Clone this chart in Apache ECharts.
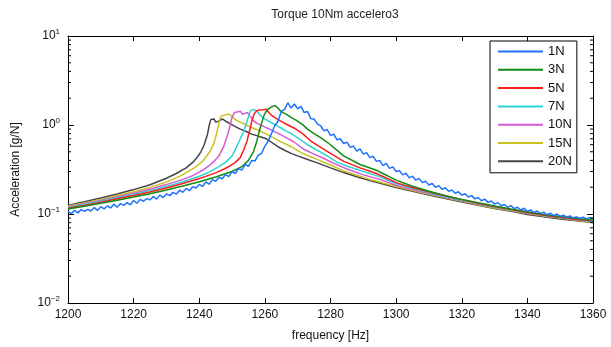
<!DOCTYPE html>
<html><head><meta charset="utf-8">
<script src="https://cdn.jsdelivr.net/npm/echarts@6/dist/echarts.min.js"></script>
<style>html,body{margin:0;padding:0;background:#fff}#c{width:611px;height:347px}</style>
</head><body><div id="c"></div>
<script>
const title = 'Torque 10Nm accelero3';
const xName = 'frequency [Hz]';
const yName = 'Acceleration [g/N]';
const seriesNames = ['1N','3N','5N','7N','10N','15N','20N'];
const seriesColors = ['#1f72ff','#128a12','#ff1a1a','#2fd3d3','#d65ad6','#c9c21e','#454545'];
const minorTickValues = [0.02,0.03,0.04,0.05,0.06,0.07,0.08,0.09,0.2,0.3,0.4,0.5,0.6,0.7,0.8,0.9,2,3,4,5,6,7,8,9];

// 1N (noisy), 1 Hz steps from 1200 to 1360
const f1 = [];
for (let f = 1200; f <= 1360; f++) f1.push(f);
const v1 = [
0.107,0.101,0.110,0.103,0.112,0.107,0.113,0.108,0.118,0.110,
0.121,0.114,0.123,0.117,0.129,0.119,0.131,0.125,0.134,0.127,
0.142,0.132,0.146,0.139,0.149,0.144,0.157,0.147,0.163,0.153,
0.168,0.161,0.175,0.167,0.185,0.175,0.194,0.183,0.202,0.196,
0.215,0.204,0.229,0.216,0.243,0.233,0.257,0.249,0.277,0.263,
0.299,0.285,0.326,0.311,0.36,0.342,0.40,0.395,0.46,0.48,
0.58,0.66,0.80,0.98,1.10,1.42,1.50,1.78,1.55,1.72,
1.52,1.62,1.38,1.42,1.18,1.16,1.03,0.98,0.86,0.89,
0.76,0.79,0.68,0.70,0.62,0.64,0.56,0.58,0.51,0.54,
0.47,0.49,0.43,0.445,0.39,0.40,0.35,0.37,0.325,0.338,
0.30,0.306,0.275,0.287,0.255,0.266,0.24,0.251,0.225,0.233,
0.212,0.22,0.2,0.208,0.19,0.197,0.18,0.186,0.171,0.178,
0.163,0.169,0.155,0.161,0.148,0.153,0.141,0.147,0.135,0.14,
0.129,0.134,0.124,0.128,0.119,0.124,0.115,0.119,0.111,0.116,
0.107,0.111,0.104,0.108,0.101,0.105,0.098,0.102,0.096,0.1,
0.094,0.097,0.092,0.095,0.09,0.093,0.089,0.092,0.088,0.091,
0.089];

// 3N
const f3 = [1200,1205,1210,1215,1220,1225,1230,1235,1240,1245,1250,1253,1255,1256.5,1257.5,1258.3,1259,1259.8,1260.7,1261.5,1262.3,1263,1263.8,1264.6,1265.5,1266.7,1268,1269.7,1271.5,1273,1275,1277,1280,1284,1289,1294,1300,1305,1310,1315,1320,1325,1330,1335,1340,1345,1350,1355,1360];
const v3 = [0.114,0.122,0.132,0.143,0.155,0.169,0.186,0.206,0.23,0.26,0.30,0.34,0.40,0.50,0.65,0.85,1.05,1.30,1.48,1.56,1.62,1.65,1.58,1.45,1.38,1.31,1.22,1.12,1.01,0.90,0.80,0.72,0.60,0.45,0.36,0.31,0.24,0.205,0.18,0.16,0.146,0.134,0.123,0.114,0.106,0.099,0.094,0.089,0.085];

// 5N
const f5 = [1200,1205,1210,1215,1220,1225,1230,1235,1240,1245,1249,1251,1252.5,1253.5,1254.5,1255.3,1256,1256.7,1257.5,1258.5,1259.5,1260.5,1261.2,1262,1263.5,1265,1267,1269,1271.5,1274,1277,1280,1284,1289,1294,1300,1305,1310,1315,1320,1325,1330,1335,1340,1345,1350,1355,1360];
const v5 = [0.116,0.125,0.136,0.148,0.161,0.177,0.196,0.22,0.25,0.29,0.34,0.38,0.43,0.52,0.65,0.85,1.10,1.32,1.45,1.47,1.48,1.50,1.38,1.29,1.18,1.10,1.00,0.92,0.80,0.66,0.56,0.48,0.39,0.33,0.285,0.225,0.198,0.178,0.16,0.145,0.132,0.121,0.112,0.104,0.097,0.092,0.087,0.084];

// 7N
const f7 = [1200,1205,1210,1215,1220,1225,1230,1235,1240,1243,1246,1248,1250,1251.5,1252.5,1253.5,1254.3,1255,1255.6,1256.5,1257.5,1258.5,1259.5,1260.5,1262,1263.5,1265.5,1268,1270.5,1273,1276,1279,1282,1286,1290,1294,1300,1305,1310,1315,1320,1325,1330,1335,1340,1345,1350,1355,1360];
const v7 = [0.118,0.128,0.139,0.152,0.166,0.183,0.204,0.23,0.265,0.295,0.34,0.38,0.45,0.58,0.70,0.84,1.02,1.25,1.45,1.49,1.45,1.30,1.20,1.14,1.06,0.99,0.90,0.80,0.70,0.60,0.52,0.45,0.38,0.335,0.30,0.27,0.22,0.194,0.174,0.157,0.143,0.131,0.12,0.111,0.103,0.096,0.091,0.086,0.083];

// 10N
const f10 = [1200,1205,1210,1215,1220,1225,1230,1235,1238,1241,1243,1244.5,1246,1247.5,1248.5,1249.3,1250,1250.7,1251.5,1252.5,1253.3,1254,1254.7,1255.5,1256.5,1257.5,1259,1260.5,1262.5,1264.5,1266.5,1269,1272,1275,1278,1281,1285,1290,1295,1300,1305,1310,1315,1320,1325,1330,1335,1340,1345,1350,1355,1360];
const v10 = [0.12,0.13,0.142,0.156,0.171,0.19,0.214,0.245,0.27,0.31,0.35,0.39,0.45,0.58,0.75,0.95,1.22,1.38,1.40,1.43,1.32,1.35,1.38,1.25,1.12,1.05,0.99,0.93,0.86,0.79,0.72,0.64,0.53,0.47,0.42,0.37,0.32,0.275,0.245,0.21,0.188,0.17,0.154,0.141,0.129,0.119,0.11,0.102,0.096,0.091,0.086,0.082];

// 15N
const f15 = [1200,1205,1210,1215,1220,1225,1230,1234,1237,1239,1241,1242.5,1243.5,1244.5,1245.3,1246,1246.5,1247,1248,1249,1250,1251,1252,1253.5,1255,1256.5,1258.5,1260.5,1262.5,1265,1268,1271,1274,1277,1280,1284,1288,1292,1296,1300,1305,1310,1315,1320,1325,1330,1335,1340,1345,1350,1355,1360];
const v15 = [0.122,0.133,0.146,0.161,0.178,0.199,0.228,0.265,0.305,0.34,0.39,0.46,0.52,0.63,0.80,1.05,1.25,1.31,1.30,1.33,1.24,1.15,1.10,1.04,0.97,0.92,0.86,0.79,0.72,0.645,0.57,0.49,0.44,0.395,0.355,0.305,0.272,0.245,0.223,0.204,0.184,0.167,0.152,0.139,0.127,0.117,0.109,0.101,0.095,0.09,0.085,0.081];

// 20N
const f20 = [1200,1205,1210,1215,1220,1225,1230,1233,1236,1238,1239.5,1240.5,1241.5,1242.5,1243,1243.5,1244,1244.5,1245,1246,1247,1247.5,1248.5,1249.5,1251,1252.5,1254.5,1256,1257.5,1259,1260.5,1262,1264,1266,1268,1270,1273,1276,1280,1284,1288,1292,1296,1300,1305,1310,1315,1320,1325,1330,1335,1340,1345,1350,1355,1360];
const v20 = [0.125,0.137,0.151,0.168,0.188,0.213,0.252,0.285,0.33,0.38,0.44,0.50,0.60,0.78,0.98,1.15,1.20,1.17,1.08,1.10,1.17,1.15,1.08,1.03,0.96,0.90,0.84,0.79,0.76,0.73,0.70,0.64,0.57,0.52,0.48,0.45,0.41,0.375,0.33,0.292,0.262,0.237,0.217,0.199,0.18,0.163,0.149,0.136,0.125,0.115,0.107,0.099,0.093,0.088,0.084,0.080];

const freqs = [f1,f3,f5,f7,f10,f15,f20];
const vals = [v1,v3,v5,v7,v10,v15,v20];
const X_MIN = 1200, X_MAX = 1360;

const chart = echarts.init(document.getElementById('c'), null, {renderer:'canvas'});
const font = 'Liberation Sans, Arial, Helvetica, sans-serif';

const lineSeries = seriesNames.map((n,i)=>({
  name:n, type:'line', symbol:'none', showSymbol:false, animation:false,
  data: freqs[i].map((f,k)=>[f, vals[i][k]]),
  lineStyle:{color:seriesColors[i], width:1.5},
  itemStyle:{color:seriesColors[i]},
  z: 10 - i
}));

const minorSeries = {
  name:'minorTicks', type:'custom', silent:true, animation:false, z:20,
  xAxisIndex:0, yAxisIndex:0,
  data: minorTickValues.map(v=>[X_MIN, v]),
  encode:{x:0, y:1},
  renderItem: function(params, api){
    const v = api.value(1);
    const a = api.coord([X_MIN, v]);
    const b = api.coord([X_MAX, v]);
    const st = {stroke:'#000', lineWidth:1};
    return {type:'group', children:[
      {type:'line', shape:{x1:a[0], y1:a[1], x2:a[0]+3, y2:a[1]}, style:st},
      {type:'line', shape:{x1:b[0]-3, y1:b[1], x2:b[0], y2:b[1]}, style:st}
    ]};
  }
};

const option = {
  backgroundColor:'#fff',
  animation:false,
  textStyle:{fontFamily:font},
  title:{text:title, left:330, top:4, textAlign:'center',
    textStyle:{fontSize:12, fontWeight:'normal', color:'#222', fontFamily:font}},
  grid:{left:68, right:18, top:36, bottom:44, show:false},
  legend:{
    data:seriesNames.map((n,i)=>({name:n, icon:'rect', itemStyle:{color:seriesColors[i], borderWidth:0}})),
    orient:'vertical', left:490, top:41,
    itemWidth:45, itemHeight:2, itemGap:3.3, padding:[3,5,4,8],
    backgroundColor:'#fff', borderColor:'#000', borderWidth:1,
    textStyle:{fontSize:13, lineHeight:15, color:'#111', fontFamily:font},
    selectedMode:false
  },
  xAxis:[{
    type:'value', min:X_MIN, max:X_MAX, interval:20,
    name:xName, nameLocation:'middle', nameGap:27,
    nameTextStyle:{fontSize:12, color:'#111', fontFamily:font},
    axisLine:{lineStyle:{color:'#000', width:1}},
    axisTick:{inside:true, length:5, lineStyle:{color:'#000'}},
    axisLabel:{fontSize:12, color:'#111', margin:6, fontFamily:font, formatter:function(v){return String(v);}},
    splitLine:{show:false}
  },{
    type:'value', min:X_MIN, max:X_MAX, interval:20, position:'top',
    axisLine:{lineStyle:{color:'#000', width:1}},
    axisTick:{inside:true, length:5, lineStyle:{color:'#000'}},
    axisLabel:{show:false}, splitLine:{show:false}
  }],
  yAxis:[{
    type:'log', min:0.01, max:10, logBase:10,
    name:yName, nameLocation:'middle', nameGap:46,
    nameTextStyle:{fontSize:12, color:'#111', fontFamily:font},
    axisLine:{lineStyle:{color:'#000', width:1}},
    axisTick:{inside:true, length:6, lineStyle:{color:'#000'}},
    axisLabel:{margin:8, fontFamily:font,
      formatter:function(v){const e=Math.round(Math.log10(v)); return '{b|10}{s|'+(e<0?'\u2212'+(-e):e)+'}';},
      rich:{b:{fontSize:12, color:'#111', fontFamily:font}, s:{fontSize:8, color:'#111', fontFamily:font, padding:[0,0,8,0]}}},
    splitLine:{show:false}
  },{
    type:'log', min:0.01, max:10, logBase:10, position:'right',
    axisLine:{lineStyle:{color:'#000', width:1}},
    axisTick:{inside:true, length:6, lineStyle:{color:'#000'}},
    axisLabel:{show:false}, splitLine:{show:false}
  }],
  series: lineSeries.concat([minorSeries])
};
chart.setOption(option);
</script></body></html>
